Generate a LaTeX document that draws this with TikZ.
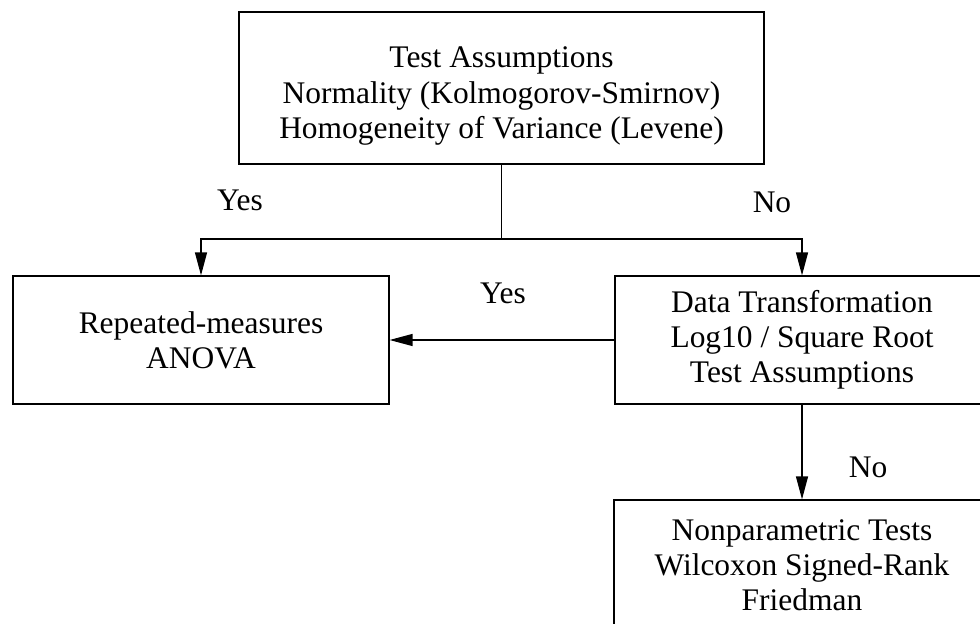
\documentclass[tikz,border=0pt]{standalone}
\usepackage{fontspec}
\setmainfont{Liberation Serif}
\usetikzlibrary{arrows.meta}
\usetikzlibrary{calc}

\begin{document}
\begin{tikzpicture}[x=.02cm, y=-.02cm, line width=.7pt,
  box/.style={draw, align=center, inner sep=0, font=\fontsize{17.9}{20}\selectfont},
  lbl/.style={font=\fontsize{17.9}{20}\selectfont},
  >={Triangle[length=4.6mm, width=2.4mm]}]
\useasboundingbox (0,0) rectangle (980,624);
\clip (0,0) rectangle (980,624);
\node[box, minimum width=10.5cm, minimum height=3.04cm,
  label={[lbl, align=center, yshift=-.16cm]center:{Test Assumptions\\Normality (Kolmogorov-Smirnov)\\Homogeneity of Variance (Levene)}}] (test) at (501.5,88) {};
\node[box, minimum width=7.52cm, minimum height=2.56cm] (anova) at (201,340) {Repeated-measures\\ANOVA};
\node[box, minimum width=7.48cm, minimum height=2.56cm] (trans) at (802,340) {Data Transformation\\Log10 / Square Root\\Test Assumptions};
\node[box, minimum width=7.52cm, minimum height=2.6cm] (nonpar) at (802,565) {Nonparametric Tests\\Wilcoxon Signed-Rank\\Friedman};
\coordinate (split) at (test.south |- 0,239);
\draw (test.south) -- (split);
\draw[->] (split) -| (anova.north);
\draw[->] (split) -| (trans.north);
\draw[->] (trans.west) -- (anova.east);
\draw[->] (trans.south) -- (nonpar.north);
\node[lbl] (yes1) at (240,200) {Yes};
\node[lbl] (no1) at (772,202) {No};
\node[lbl] (yes2) at (503,293) {Yes};
\node[lbl] (no2) at (868,467) {No};
\end{tikzpicture}
\end{document}
